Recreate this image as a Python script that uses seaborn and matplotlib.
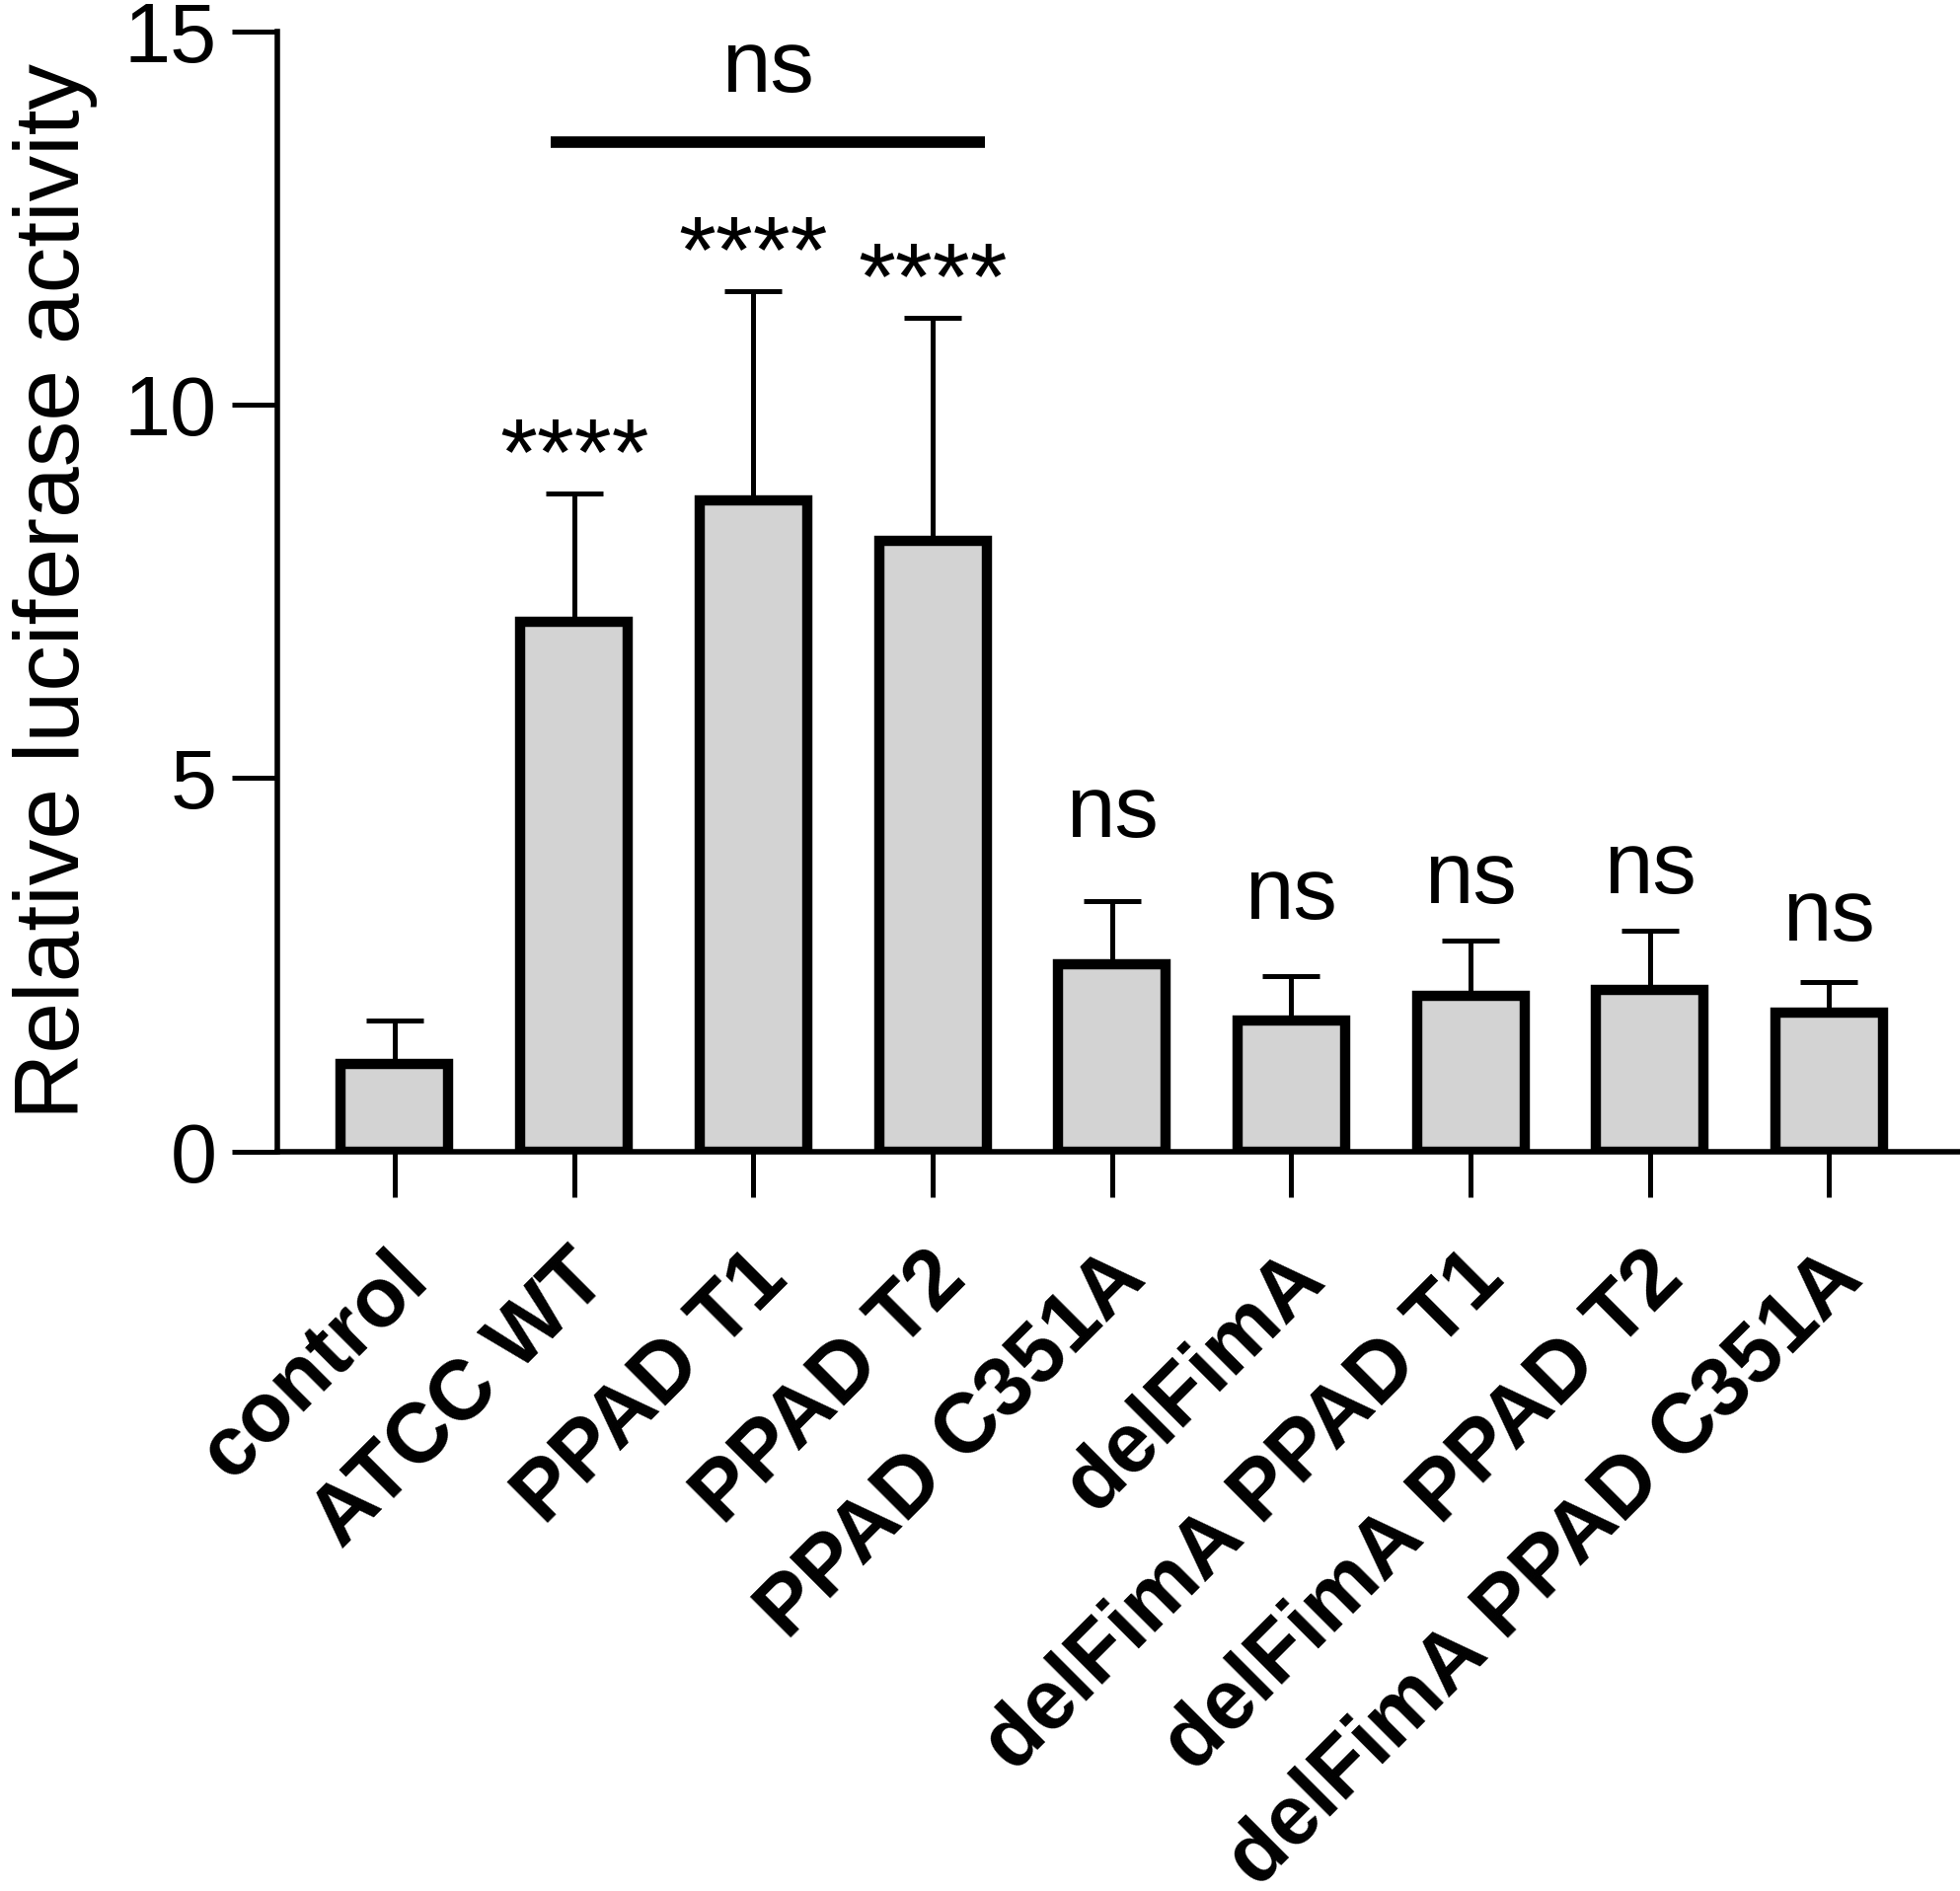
import matplotlib
matplotlib.use("Agg")
import matplotlib.pyplot as plt
import matplotlib.transforms as mtransforms
import numpy as np
import seaborn as sns

groups = ["control", "ATCC WT", "PPAD T1", "PPAD T2", "PPAD C351A",
          "delFimA", "delFimA PPAD T1", "delFimA PPAD T2", "delFimA PPAD C351A"]
means = [1.17, 7.09, 8.72, 8.18, 2.51, 1.75, 2.09, 2.16, 1.86]
upper = [1.75, 8.81, 11.52, 11.17, 3.35, 2.35, 2.82, 2.95, 2.27]

# significance vs control
star_groups = ["ATCC WT", "PPAD T1", "PPAD T2"]
ns_groups = ["PPAD C351A", "delFimA", "delFimA PPAD T1", "delFimA PPAD T2", "delFimA PPAD C351A"]
ns_label_y = [4.21, 3.11, 3.33, 3.46, 2.82]
# bracket between ATCC WT and PPAD T2
bracket_span = [0.87, 3.29]
bracket_y = 13.52

sns.set_style("ticks")
plt.rcParams["font.family"] = ["Liberation Sans", "DejaVu Sans"]
for key in ["text.color", "axes.labelcolor", "xtick.color", "ytick.color", "axes.edgecolor"]:
    plt.rcParams[key] = "black"

fig = plt.figure(figsize=(19.86, 19.16), dpi=100)
ax = fig.add_axes([281 / 1986, 1 - 1166.6 / 1916, 1 - 281 / 1986, (1166.6 - 32) / 1916])

sns.barplot(x=groups, y=means, color="#d3d3d3", saturation=1, width=0.6,
            edgecolor="black", linewidth=7.5, errorbar=None, ax=ax, zorder=2)

sd = np.array(upper) - np.array(means)
xpos = np.arange(len(groups))
ax.errorbar(xpos, means, yerr=[np.zeros(len(sd)), sd], fmt="none",
            ecolor="black", elinewidth=3.6, capsize=21, capthick=3.6, zorder=1)

ax.set_ylim(0, 15)
ax.set_xlim(-0.655, 8.73)
ax.set_yticks([0, 5, 10, 15])
ax.set_ylabel("Relative luciferase activity", fontsize=67)
ax.yaxis.set_label_coords(-0.107, 0.5)
ax.set_xlabel("")

ax.tick_params(axis="y", length=33, width=3.6, labelsize=61, pad=11)
ax.tick_params(axis="x", length=33, width=3.6, pad=0)
for lab in ax.get_xticklabels():
    lab.set_rotation(45)
    lab.set_ha("right")
    lab.set_va("center")
    lab.set_rotation_mode("anchor")
    lab.set_fontsize(61)
    lab.set_fontweight("bold")
    lab.set_transform(lab.get_transform() +
                      mtransforms.ScaledTranslation(0.21, -0.70, fig.dpi_scale_trans))

for side in ["top", "right"]:
    ax.spines[side].set_visible(False)
for side in ["left", "bottom"]:
    ax.spines[side].set_linewidth(4)

for g in star_groups:
    i = groups.index(g)
    ax.text(i, upper[i] + 0.12, "****", ha="center", va="baseline", fontsize=70)
for g, y in zip(ns_groups, ns_label_y):
    i = groups.index(g)
    ax.text(i, y, "ns", ha="center", va="baseline", fontsize=64)

ax.plot(bracket_span, [bracket_y, bracket_y], color="black", lw=8.4,
        solid_capstyle="butt", clip_on=False)
ax.text(np.mean(bracket_span), 14.19, "ns", ha="center", va="baseline", fontsize=64)

fig.savefig("out.png", dpi=100)
